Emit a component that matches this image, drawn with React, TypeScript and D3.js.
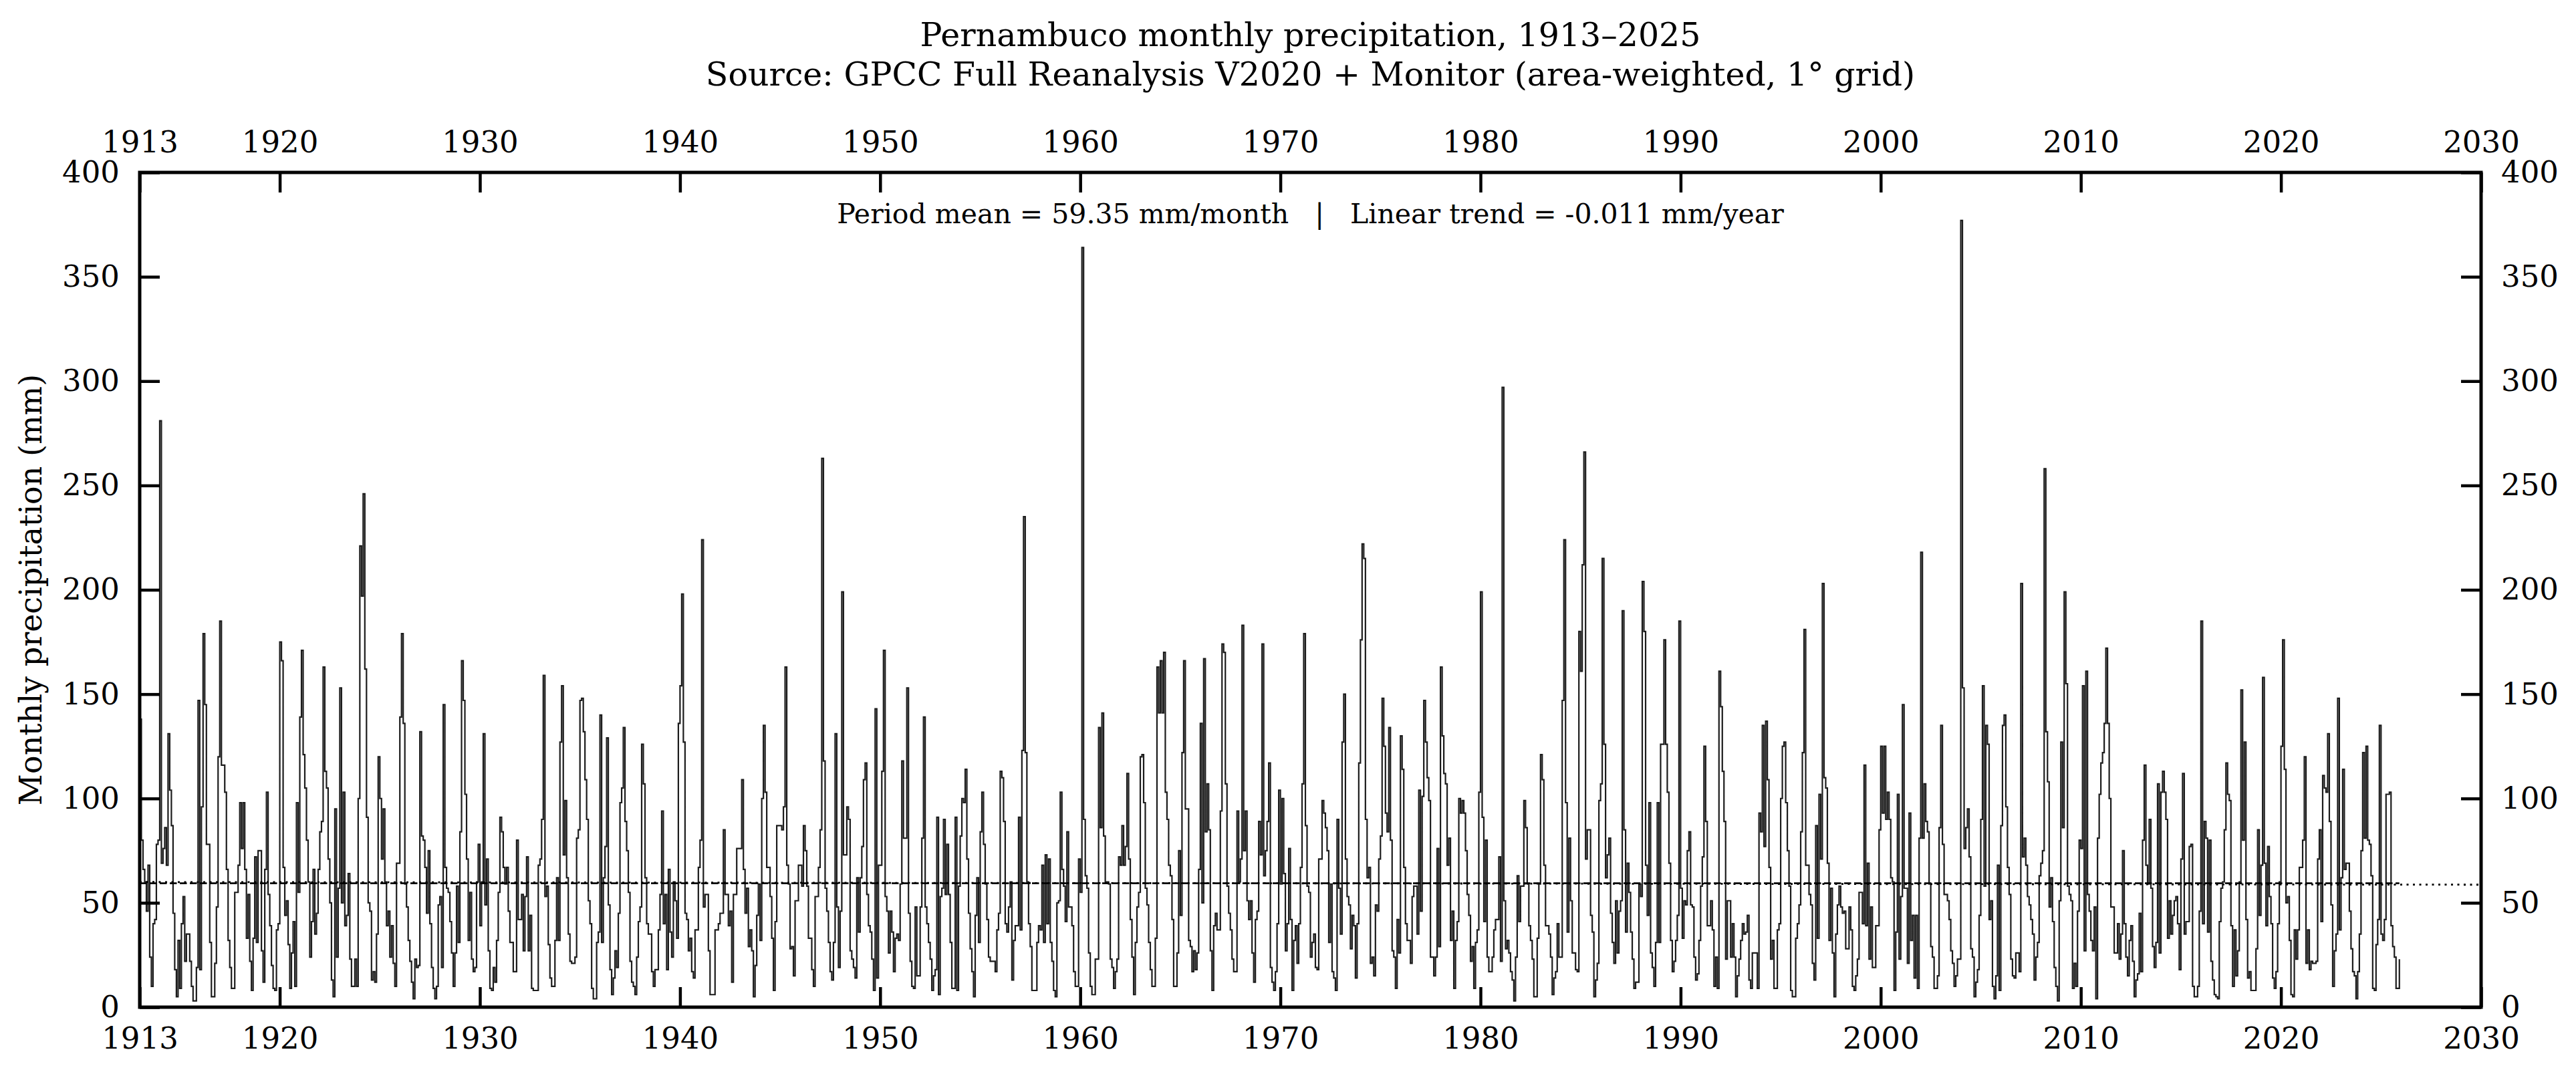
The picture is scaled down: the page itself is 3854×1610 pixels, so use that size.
import React, { useRef, useEffect } from "react";
import * as d3 from "d3";

// monthly precipitation (mm), one row per year, Jan..Dec
const FIRST_YEAR = 1913;

const precip1910s = [
  [138, 80, 66, 60, 46, 68, 24, 10, 40, 42, 78, 80],
  [281, 69, 76, 86, 68, 131, 104, 87, 45, 18, 5, 32],
  [9, 40, 53, 22, 35, 35, 22, 10, 3, 3, 19, 147],
  [18, 96, 179, 145, 78, 78, 31, 5, 5, 21, 48, 120],
  [185, 116, 116, 103, 66, 32, 19, 9, 9, 55, 55, 68],
  [98, 76, 98, 66, 33, 54, 22, 8, 33, 72, 31, 75],
  [75, 27, 12, 66, 103, 54, 39, 20, 9, 8, 37, 40],
];

const precip1920s = [
  [175, 166, 67, 44, 51, 30, 9, 26, 41, 10, 98, 55],
  [139, 171, 121, 105, 80, 60, 24, 41, 66, 35, 45, 66],
  [84, 89, 163, 113, 105, 71, 50, 13, 5, 95, 24, 57],
  [153, 50, 103, 39, 44, 64, 23, 10, 10, 23, 10, 100],
  [221, 197, 246, 162, 91, 50, 46, 13, 17, 12, 35, 120],
  [100, 71, 95, 60, 39, 46, 24, 39, 21, 10, 69, 69],
  [139, 179, 136, 59, 48, 32, 22, 12, 4, 23, 19, 20],
  [132, 82, 80, 67, 45, 75, 40, 19, 9, 4, 10, 49],
  [53, 19, 145, 67, 57, 55, 41, 26, 10, 26, 58, 31],
  [84, 166, 147, 102, 71, 32, 55, 23, 17, 19, 60, 78],
];

const precip1930s = [
  [39, 60, 131, 49, 71, 27, 9, 8, 19, 12, 32, 55],
  [91, 84, 67, 59, 67, 46, 31, 31, 17, 17, 80, 42],
  [42, 54, 27, 53, 72, 27, 44, 9, 8, 8, 8, 68],
  [71, 90, 159, 53, 58, 30, 14, 10, 10, 32, 62, 32],
  [127, 154, 73, 99, 62, 35, 22, 21, 21, 24, 81, 85],
  [147, 148, 132, 109, 90, 51, 40, 9, 4, 4, 31, 36],
  [140, 31, 62, 77, 129, 49, 18, 6, 14, 27, 19, 45],
  [98, 105, 134, 89, 75, 55, 22, 12, 10, 6, 24, 41],
  [48, 126, 107, 62, 40, 35, 35, 17, 10, 18, 18, 37],
  [54, 94, 40, 54, 18, 66, 36, 24, 60, 51, 33, 136],
];

const precip1940s = [
  [154, 198, 127, 45, 42, 27, 33, 17, 14, 37, 37, 67],
  [80, 224, 48, 54, 54, 27, 6, 6, 6, 37, 37, 40],
  [45, 45, 85, 54, 54, 39, 46, 12, 54, 54, 76, 76],
  [76, 109, 66, 45, 57, 29, 37, 27, 5, 20, 44, 59],
  [32, 100, 135, 103, 67, 67, 53, 33, 8, 41, 87, 87],
  [87, 85, 96, 163, 68, 59, 28, 29, 15, 51, 51, 68],
  [68, 58, 87, 75, 58, 33, 33, 18, 10, 53, 53, 67],
  [85, 263, 118, 57, 46, 31, 17, 13, 31, 131, 48, 19],
  [46, 199, 73, 73, 96, 90, 27, 23, 19, 14, 62, 36],
  [62, 77, 109, 117, 54, 39, 36, 23, 8, 143, 14, 68],
];

const precip1950s = [
  [68, 113, 171, 53, 46, 26, 46, 36, 17, 33, 35, 32],
  [59, 118, 81, 81, 153, 45, 22, 10, 9, 48, 15, 15],
  [48, 81, 139, 48, 40, 31, 23, 8, 15, 18, 91, 6],
  [53, 57, 90, 54, 78, 54, 31, 9, 9, 91, 8, 58],
  [82, 100, 98, 114, 71, 45, 28, 17, 5, 44, 62, 31],
  [84, 103, 78, 59, 42, 24, 22, 22, 22, 17, 37, 45],
  [113, 110, 89, 40, 36, 48, 60, 13, 32, 39, 39, 91],
  [37, 123, 235, 122, 60, 40, 29, 8, 8, 8, 31, 39],
  [37, 68, 31, 73, 40, 71, 31, 22, 8, 5, 50, 51],
  [103, 66, 58, 41, 84, 48, 48, 39, 17, 10, 10, 71],
];

const precip1960s = [
  [55, 364, 90, 63, 57, 26, 10, 6, 6, 23, 23, 134],
  [86, 141, 82, 60, 60, 59, 23, 19, 9, 17, 23, 72],
  [68, 87, 68, 77, 112, 71, 42, 24, 6, 31, 48, 55],
  [120, 121, 98, 57, 49, 31, 18, 10, 10, 33, 163, 141],
  [166, 141, 170, 103, 90, 68, 63, 42, 10, 10, 26, 75],
  [44, 122, 166, 95, 95, 32, 29, 17, 27, 18, 26, 66],
  [136, 50, 167, 84, 107, 85, 27, 8, 39, 45, 37, 37],
  [94, 174, 170, 107, 58, 45, 37, 23, 17, 17, 94, 60],
  [71, 183, 75, 94, 51, 42, 51, 26, 12, 42, 46, 89],
  [73, 174, 63, 75, 89, 117, 19, 12, 8, 17, 40, 104],
];

const precip1970s = [
  [59, 100, 64, 27, 40, 76, 42, 8, 32, 39, 21, 40],
  [67, 107, 179, 87, 58, 55, 24, 31, 35, 19, 18, 71],
  [71, 99, 93, 86, 75, 31, 59, 17, 14, 8, 90, 57],
  [35, 127, 150, 71, 53, 49, 28, 44, 39, 14, 40, 117],
  [176, 222, 215, 90, 62, 67, 21, 24, 15, 49, 46, 71],
  [82, 148, 125, 93, 84, 134, 80, 27, 24, 9, 42, 26],
  [130, 114, 67, 40, 32, 32, 21, 53, 58, 58, 35, 104],
  [46, 101, 147, 127, 110, 99, 24, 24, 15, 24, 76, 29],
  [163, 130, 112, 107, 68, 81, 32, 46, 9, 32, 41, 100],
  [93, 99, 93, 75, 54, 44, 22, 29, 9, 31, 37, 103],
];

const precip1980s = [
  [199, 91, 41, 80, 24, 17, 17, 24, 37, 42, 42, 72],
  [22, 297, 51, 28, 32, 26, 17, 13, 3, 24, 63, 41],
  [58, 58, 99, 86, 59, 39, 32, 23, 5, 5, 33, 59],
  [121, 109, 68, 39, 39, 35, 24, 6, 14, 17, 40, 24],
  [24, 147, 224, 98, 36, 81, 51, 26, 26, 18, 17, 180],
  [161, 212, 266, 71, 85, 85, 44, 36, 5, 13, 21, 99],
  [107, 215, 126, 62, 73, 81, 45, 31, 21, 51, 26, 46],
  [51, 190, 85, 36, 69, 55, 36, 23, 9, 12, 12, 59],
  [53, 204, 180, 68, 44, 98, 26, 19, 10, 31, 98, 31],
  [126, 126, 176, 126, 103, 69, 32, 17, 22, 32, 44, 185],
];

const precip1990s = [
  [57, 33, 51, 49, 75, 84, 49, 48, 24, 13, 16, 32],
  [58, 72, 125, 89, 39, 39, 51, 37, 10, 24, 9, 161],
  [144, 113, 89, 23, 51, 51, 24, 40, 24, 5, 15, 23],
  [32, 40, 35, 36, 44, 13, 9, 26, 26, 26, 9, 93],
  [84, 135, 77, 137, 109, 67, 23, 32, 9, 9, 37, 40],
  [100, 125, 127, 98, 75, 58, 8, 5, 5, 33, 40, 49],
  [84, 122, 181, 68, 68, 54, 49, 21, 13, 87, 33, 102],
  [71, 203, 110, 105, 69, 32, 57, 26, 5, 35, 49, 58],
  [48, 45, 46, 28, 28, 48, 37, 10, 8, 15, 23, 55],
  [55, 40, 116, 39, 69, 23, 48, 19, 19, 39, 39, 85],
];

const precip2000s = [
  [125, 93, 125, 90, 103, 90, 62, 60, 8, 36, 102, 23],
  [53, 145, 57, 57, 21, 93, 32, 44, 14, 44, 9, 81],
  [218, 81, 107, 89, 84, 59, 29, 24, 9, 9, 15, 86],
  [135, 78, 54, 54, 51, 42, 27, 21, 10, 15, 23, 23],
  [377, 153, 76, 86, 95, 72, 28, 24, 5, 12, 18, 44],
  [90, 154, 58, 135, 126, 42, 51, 10, 4, 15, 68, 8],
  [87, 135, 140, 96, 67, 54, 23, 15, 14, 26, 26, 17],
  [203, 72, 81, 68, 53, 49, 42, 35, 13, 24, 31, 63],
  [69, 75, 258, 132, 108, 48, 62, 41, 19, 10, 3, 51],
  [127, 86, 199, 155, 58, 54, 51, 9, 21, 10, 46, 80],
];

const precip2010s = [
  [76, 154, 27, 161, 54, 46, 32, 27, 48, 4, 81, 102],
  [117, 122, 136, 172, 136, 100, 48, 48, 26, 26, 40, 23],
  [35, 75, 40, 24, 15, 32, 39, 22, 5, 13, 16, 45],
  [17, 80, 116, 68, 59, 90, 57, 29, 19, 31, 107, 26],
  [103, 113, 103, 90, 33, 51, 35, 44, 51, 53, 40, 18],
  [71, 112, 35, 41, 41, 77, 78, 10, 5, 5, 10, 46],
  [185, 40, 89, 81, 36, 80, 22, 13, 6, 5, 4, 41],
  [57, 60, 85, 117, 102, 99, 39, 10, 37, 15, 27, 60],
  [152, 80, 127, 42, 14, 17, 8, 8, 8, 28, 85, 44],
  [68, 158, 69, 39, 77, 53, 40, 14, 9, 17, 40, 60],
];

const precip2020s = [
  [125, 176, 114, 50, 53, 32, 6, 5, 37, 23, 37, 67],
  [67, 80, 120, 21, 37, 18, 22, 21, 21, 22, 71, 85],
  [41, 111, 105, 103, 131, 89, 49, 10, 27, 35, 148, 37],
  [62, 114, 66, 69, 69, 46, 28, 17, 15, 4, 17, 35],
  [75, 122, 81, 125, 80, 78, 63, 9, 8, 30, 42, 135],
  [35, 32, 42, 102, 102, 103, 39, 29, 24, 9, 9, 23],
];

const PERIOD_MEAN = 59.35; // mm/month
const TREND_SLOPE = -0.011; // mm/year

const xTicks = [1913, 1920, 1930, 1940, 1950, 1960, 1970, 1980, 1990, 2000, 2010, 2020, 2030];
const yTicks = [0, 50, 100, 150, 200, 250, 300, 350, 400];

const TITLE = "Pernambuco monthly precipitation, 1913\u20132025";
const SUBTITLE = "Source: GPCC Full Reanalysis V2020 + Monitor (area-weighted, 1\u00b0 grid)";

const W = 3854;
const H = 1610;
const M = { left: 209, right: 3712, top: 258, bottom: 1507 };
const FONT = "DejaVu Serif";

const PrecipChart = () => {
  const ref = useRef<SVGSVGElement>(null);

  useEffect(() => {
    const svg = d3.select(ref.current);
    svg.selectAll("*").remove();

    const rows = [
      ...precip1910s, ...precip1920s, ...precip1930s, ...precip1940s,
      ...precip1950s, ...precip1960s, ...precip1970s, ...precip1980s,
      ...precip1990s, ...precip2000s, ...precip2010s, ...precip2020s,
    ];
    const series: [number, number][] = [];
    rows.forEach((row, i) => {
      row.forEach((v, m) => series.push([FIRST_YEAR + i + m / 12, v]));
    });
    const lastX = series[series.length - 1][0];
    const midX = (series[0][0] + lastX) / 2;

    const x = d3.scaleLinear().domain([1913, 2030]).range([M.left, M.right]);
    const y = d3.scaleLinear().domain([0, 400]).range([M.bottom, M.top]);

    svg.append("rect").attr("width", W).attr("height", H).attr("fill", "#fff");

    // titles
    const title = svg.append("g").attr("font-family", FONT).attr("font-size", 49).attr("text-anchor", "middle");
    title.append("text").attr("x", (M.left + M.right) / 2).attr("y", 69).text(TITLE);
    title.append("text").attr("x", (M.left + M.right) / 2).attr("y", 128).text(SUBTITLE);

    // precipitation as steps
    const line = d3
      .line<[number, number]>()
      .x((d) => x(d[0]))
      .y((d) => y(d[1]))
      .curve(d3.curveStepAfter);

    svg
      .append("path")
      .datum(series)
      .attr("d", line)
      .attr("fill", "none")
      .attr("stroke", "#1c1c1c")
      .attr("stroke-width", 2.2);

    // period mean
    svg
      .append("line")
      .attr("x1", x(series[0][0]))
      .attr("x2", x(lastX))
      .attr("y1", y(PERIOD_MEAN))
      .attr("y2", y(PERIOD_MEAN))
      .attr("stroke", "#000")
      .attr("stroke-width", 2.8)
      .attr("stroke-dasharray", "10.5,4.5");

    // linear trend over the full axis
    const trend = (t: number) => PERIOD_MEAN + TREND_SLOPE * (t - midX);
    svg
      .append("line")
      .attr("x1", x(1913))
      .attr("x2", x(2030))
      .attr("y1", y(trend(1913)))
      .attr("y2", y(trend(2030)))
      .attr("stroke", "#000")
      .attr("stroke-width", 2.8)
      .attr("stroke-dasharray", "3,6.5");

    // annotation
    svg
      .append("text")
      .attr("x", (M.left + M.right) / 2)
      .attr("y", 334)
      .attr("text-anchor", "middle")
      .attr("font-family", FONT)
      .attr("font-size", 41)
      .style("white-space", "pre")
      .text(
        `Period mean = ${PERIOD_MEAN.toFixed(2)} mm/month   |   Linear trend = ${TREND_SLOPE.toFixed(3)} mm/year`
      );

    // axes, ticks pointing inward
    const styleAxis = (g) => {
      g.select(".domain").remove();
      g.selectAll(".tick line").attr("stroke", "#000").attr("stroke-width", 4.5);
      g.selectAll(".tick text").attr("fill", "#000");
      g.attr("font-family", FONT).attr("font-size", 45);
    };
    const fmt = d3.format("d");

    svg
      .append("g")
      .attr("transform", `translate(0,${M.bottom})`)
      .call(d3.axisBottom(x).tickValues(xTicks).tickFormat(fmt).tickSize(-30).tickPadding(30))
      .call(styleAxis);
    svg
      .append("g")
      .attr("transform", `translate(0,${M.top})`)
      .call(d3.axisTop(x).tickValues(xTicks).tickFormat(fmt).tickSize(-30).tickPadding(30))
      .call(styleAxis);
    svg
      .append("g")
      .attr("transform", `translate(${M.left},0)`)
      .call(d3.axisLeft(y).tickValues(yTicks).tickFormat(fmt).tickSize(-30).tickPadding(30))
      .call(styleAxis);
    svg
      .append("g")
      .attr("transform", `translate(${M.right},0)`)
      .call(d3.axisRight(y).tickValues(yTicks).tickFormat(fmt).tickSize(-30).tickPadding(30))
      .call(styleAxis);

    // frame
    svg
      .append("rect")
      .attr("x", M.left)
      .attr("y", M.top)
      .attr("width", M.right - M.left)
      .attr("height", M.bottom - M.top)
      .attr("fill", "none")
      .attr("stroke", "#000")
      .attr("stroke-width", 5);

    svg
      .append("text")
      .attr("transform", `translate(50,${(M.top + M.bottom) / 2}) rotate(-90)`)
      .attr("text-anchor", "middle")
      .attr("dominant-baseline", "middle")
      .attr("font-family", FONT)
      .attr("font-size", 46)
      .text("Monthly precipitation (mm)");
  }, []);

  return (
    <svg
      ref={ref}
      width={W}
      height={H}
      style={{ position: "absolute", left: 0, top: 0, display: "block" }}
    />
  );
};

export default function App() {
  return <PrecipChart />;
}
